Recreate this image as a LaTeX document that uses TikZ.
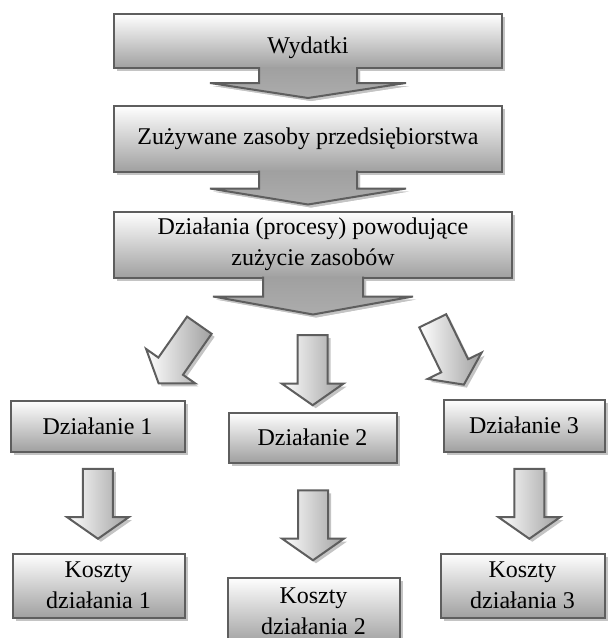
\documentclass[tikz,border=0pt]{standalone}
\usepackage{fontspec}
\setmainfont{Liberation Serif}
\usetikzlibrary{calc,shapes.arrows,shadows}
\definecolor{BoxLine}{HTML}{5E5E5E}
\definecolor{BoxDark}{HTML}{A0A0A0}
\definecolor{ShadowGray}{HTML}{C4C4C4}

\begin{document}
\begin{tikzpicture}[
  x=0.5pt, y=-0.5pt,
  shade/.style={drop shadow={shadow xshift=1.5pt, shadow yshift=-1.5pt, fill=ShadowGray, opacity=1}},
  box/.style={shade, draw=BoxLine, line width=1pt, top color=white, bottom color=BoxDark, align=center, inner sep=0pt, font=\fontsize{12}{15.5}\selectfont},
  bigarrow/.style={shade, draw=BoxLine, line width=1pt, top color=BoxDark, bottom color=gray!65},
  blockarrow/.style={single arrow, shade, draw=BoxLine, line width=1pt, left color=white, right color=BoxDark, inner xsep=0pt, inner ysep=7pt, minimum width=0pt, single arrow head extend=8pt, single arrow tip angle=110, minimum height=35pt},
  slantarrow/.style={blockarrow, single arrow head extend=7.5pt, minimum height=35.5pt}
]
\useasboundingbox (0,0) rectangle (608,638);

% main chain
\node[box, minimum width=194pt, minimum height=27pt] (wydatki) at (308,41) {\raisebox{-6pt}[0pt][0pt]{Wydatki}};
\shadedraw[bigarrow] ($(wydatki.south)+(-49,-2)$) -- ($(wydatki.south)+(-49,14)$) -- ($(wydatki.south)+(-98,14)$) -- ($(wydatki.south)+(0,29)$) -- ($(wydatki.south)+(98,14)$) -- ($(wydatki.south)+(49,14)$) -- ($(wydatki.south)+(49,-2)$);

\node[box, minimum width=194pt, minimum height=33pt] (zasoby) at (308,138.5) {Zużywane zasoby przedsiębiorstwa};
\shadedraw[bigarrow] ($(zasoby.south)+(-49,-2)$) -- ($(zasoby.south)+(-49,16)$) -- ($(zasoby.south)+(-98,16)$) -- ($(zasoby.south)+(0,32)$) -- ($(zasoby.south)+(98,16)$) -- ($(zasoby.south)+(49,16)$) -- ($(zasoby.south)+(49,-2)$);

\node[box, minimum width=199pt, minimum height=33pt] (procesy) at (313,244.5) {Działania (procesy) powodujące\\zużycie zasobów};
\shadedraw[bigarrow] ($(procesy.south)+(-50,-2)$) -- ($(procesy.south)+(-50,18)$) -- ($(procesy.south)+(-100,18)$) -- ($(procesy.south)+(0,36)$) -- ($(procesy.south)+(100,18)$) -- ($(procesy.south)+(50,18)$) -- ($(procesy.south)+(50,-2)$);

% activities
\node[box, minimum width=87pt, minimum height=25.5pt] (dzial1) at (97.5,426) {Działanie 1};
\node[box, minimum width=84pt, minimum height=25pt] (dzial2) at (312.5,437.5) {Działanie 2};
\node[box, minimum width=80.5pt, minimum height=26pt] (dzial3) at (524,425.5) {Działanie 3};

\node[slantarrow, rotate=-125] (split1) at (182,350) {};
\node[blockarrow, rotate=-90] (split2) at ($(procesy.south)!0.65!(dzial2.north)$) {};
\node[slantarrow, rotate=-64] (split3) at (446,348) {};

% costs
\node[box, minimum width=86pt, minimum height=32pt] (koszt1) at (98.5,585.5) {Koszty\\działania 1};
\node[box, minimum width=86pt, minimum height=33.5pt] (koszt2) at (313.5,611) {Koszty\\działania 2};
\node[box, minimum width=82pt, minimum height=32pt] (koszt3) at (522.5,585.5) {Koszty\\działania 3};

\node[blockarrow, rotate=-90] (cost1) at ($(dzial1.south)!0.46!(koszt1.north)$) {};
\node[blockarrow, rotate=-90] (cost2) at ($(dzial2.south)!0.5!(koszt2.north)$) {};
\node[blockarrow, rotate=-90, yshift=3pt] (cost3) at ($(dzial3.south)!0.46!(koszt3.north)$) {};
\end{tikzpicture}
\end{document}
